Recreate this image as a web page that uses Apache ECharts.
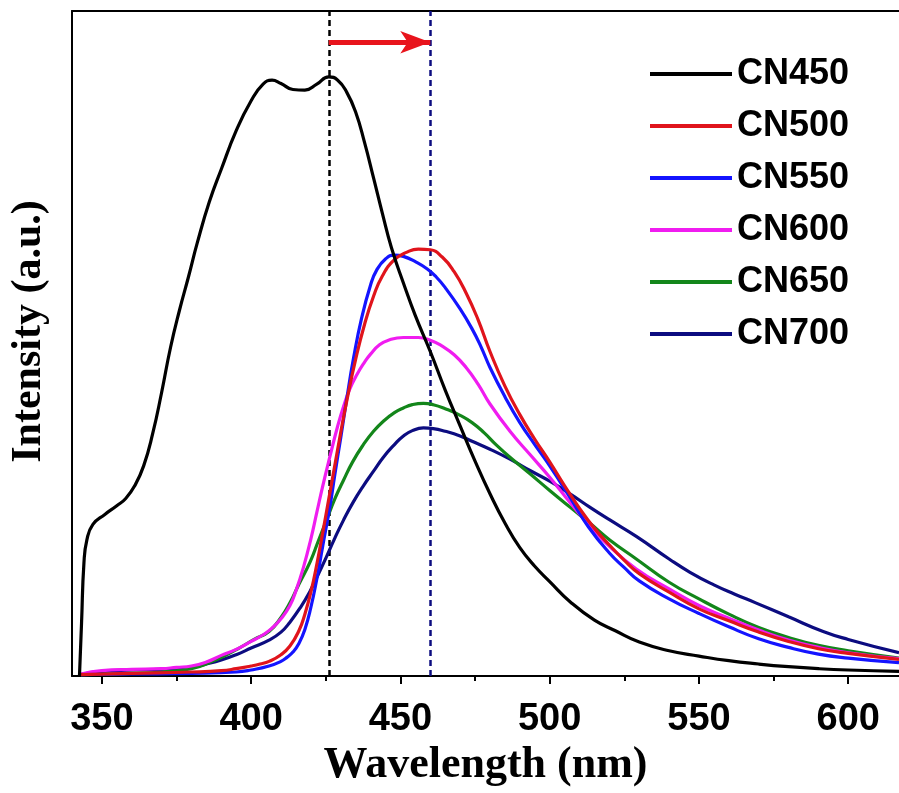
<!DOCTYPE html>
<html><head><meta charset="utf-8">
<script src="https://cdn.jsdelivr.net/npm/echarts@6/dist/echarts.min.js"></script>
<style>html,body{margin:0;padding:0;background:#fff}#c{width:899px;height:793px}</style>
</head><body><div id="c"></div>
<script>
// ---- data (wavelength nm, intensity a.u.) ----
const seriesNames = ['CN450', 'CN500', 'CN550', 'CN600', 'CN650', 'CN700'];
const seriesColors = ['#000000', '#e0141c', '#1414ff', '#f01cf0', '#13861a', '#0c0c80'];

const cn450 = [[342.5,0],[343.2,8],[344,17],[345,20.5],[347,22.8],[351,24.3],[355,25.6],[358,26.7],[361,28.6],[364,31.6],[367,36.4],[370,42.6],[373,49.4],[376,55],[379,60],[382,65.2],[386,71.3],[390,76.2],[395,82],[400,86.5],[404,89],[407,89.6],[410,89.1],[414,88.2],[418,88.1],[422,89],[426,90.1],[429,89.6],[432,87.8],[435,84.8],[438,80.2],[441,74.9],[444,69.5],[447,64.4],[451,59.1],[455,54.2],[460,48.8],[465,43],[470,37.6],[475,32.3],[480,27.4],[485,23],[490,19.3],[495,16.5],[500,14.2],[507,11.1],[515,8.4],[522,6.8],[530,5.1],[540,3.8],[550,3.0],[560,2.3],[570,1.8],[580,1.4],[590,1.1],[600,0.9],[617,0.7]];

const cn500 = [[343,0.2],[360,0.4],[380,0.6],[390,0.8],[395,1.1],[400,1.5],[403,1.8],[406,2.2],[410,3.2],[413,4.5],[416,6.8],[418,9.3],[420,12.6],[422,16.8],[424,21.6],[426,26.6],[428,31.6],[430,36.6],[432,41.3],[435,47.6],[438,52.9],[441,57.1],[444,60.2],[448,62.6],[452,63.7],[456,64.2],[460,64.1],[464,63.0],[468,60.8],[472,57.6],[476,53.6],[480,48.8],[485,43.6],[490,39.3],[495,35.6],[500,32.2],[505,28.6],[510,25.2],[515,22.2],[520,19.7],[525,17.4],[530,15.4],[540,12.6],[550,10.1],[560,8.3],[570,6.6],[580,5.2],[590,4.1],[600,3.4],[617,2.5]];

const cn550 = [[343,0.2],[360,0.3],[380,0.4],[395,0.6],[400,0.9],[406,1.5],[410,2.2],[412,2.8],[414,3.6],[416,4.9],[418,7.0],[420,10.3],[422,14.6],[424,19.6],[426.5,25.8],[428,30.2],[430,35.8],[432,41.6],[434.3,47.8],[437,53.8],[440,58.8],[442,61.0],[445,62.7],[448,63.3],[451,63.1],[455,62.3],[459,61.2],[462,60.0],[465,58.4],[470,55.2],[474,52.2],[477,49.5],[480,46.4],[485,42],[490,38.1],[495,34.8],[500,31.6],[507,26.7],[513,22.4],[520,18.5],[525,16.3],[530,14.3],[540,11.6],[550,9.4],[560,7.4],[570,5.6],[580,4.3],[590,3.3],[600,2.7],[617,2.0]];

const cn600 = [[343,0.3],[350,0.8],[360,1.0],[370,1.1],[375,1.3],[380,1.5],[385,2.1],[390,3.1],[395,4.0],[400,5.2],[404,6.2],[407,7.2],[410,8.6],[413,10.6],[415,12.8],[417.5,16.3],[420,20.6],[422,24.6],[424,28.6],[426.5,33.2],[429,37.6],[431,40.6],[433,43.1],[435.4,45.3],[438,47.2],[440,48.4],[443,49.8],[446,50.5],[451,50.9],[456,50.9],[460,50.5],[464,49.6],[468,48.3],[472,46.4],[476,43.9],[480,40.9],[486.7,36.8],[493.4,33.3],[500,29.9],[506.8,26.1],[513.4,22.6],[520,19.5],[529,16.1],[540,13.1],[550,10.6],[560,8.7],[570,6.9],[580,5.4],[590,4.3],[600,3.5],[617,2.6]];

const cn650 = [[343,0.2],[360,0.4],[370,0.6],[380,1.1],[387,2.2],[391,3.0],[396,4.2],[401,5.5],[406,6.7],[410,8.8],[413,11.0],[416,13.8],[419.8,17.2],[422.5,20.3],[425.3,23.5],[428,26.6],[430.9,29.4],[434,32.2],[437.6,34.8],[441,36.8],[444.3,38.3],[448,39.6],[451,40.3],[454,40.8],[457.7,41.0],[461,40.8],[465,40.2],[470,39.2],[474,38.1],[478,36.6],[482,34.8],[486.7,32.9],[493.4,30.4],[500,27.9],[506.8,25.4],[513.4,23.0],[520,20.5],[529,17.6],[540,14.1],[550,11.6],[560,9.3],[570,7.3],[580,5.8],[590,4.6],[600,3.8],[617,2.7]];

const cn700 = [[343,0.2],[350,0.7],[360,0.9],[370,1.0],[380,1.3],[385,1.8],[390,2.4],[395,3.2],[400,4.2],[406,5.4],[410,6.6],[413,8.1],[416.5,10.3],[419.8,12.8],[422.5,15.3],[425.3,18.0],[428,20.7],[430.9,23.4],[434,26.0],[437.6,28.6],[441,30.8],[444.3,32.9],[448,34.8],[451,36.1],[454,36.9],[457.7,37.3],[461,37.2],[465,36.8],[470,36.1],[474,35.3],[480,34.1],[486.7,32.6],[493.4,30.9],[500,29.3],[506.8,27.4],[513.4,25.4],[520,23.5],[529,21.0],[540,17.6],[547,15.6],[555,13.7],[562,12.3],[569,11.0],[580,8.9],[591.6,6.7],[600,5.5],[617,3.5]];

const allSeries = [cn450, cn500, cn550, cn600, cn650, cn700];

// ---- axes / annotations ----
const xRange = [340, 617];
const yRange = [0, 100];
const majorTicks = [350, 400, 450, 500, 550, 600];
const minorTicks = [375, 425, 475, 525, 575];
const peakLines = [426, 460];           // dashed vertical markers (nm)
const peakLineColors = ['#000000', '#0c0c80'];
const arrowFrom = [426, 95.3];
const arrowTo = [460, 95.3];

const chart = echarts.init(document.getElementById('c'), null, {renderer: 'canvas'});

const sansBold = {fontFamily: 'Liberation Sans', fontWeight: 'bold', color: '#000'};
const serifBold = {fontFamily: 'Liberation Serif', fontWeight: 'bold', color: '#000'};

const series = allSeries.map((d, i) => ({
  name: seriesNames[i],
  type: 'line',
  data: d,
  showSymbol: false,
  smooth: 0.5,
  z: 10 - i,
  color: seriesColors[i],
  itemStyle: {color: seriesColors[i]},
  lineStyle: {color: seriesColors[i], width: 3.2}
}));

// dashed markers and arrow on an empty helper series
series.push({
  type: 'line',
  data: [],
  silent: true,
  markLine: {
    silent: true,
    symbol: ['none', 'none'],
    label: {show: false},
    animation: false,
    data: peakLines.map((v, i) => ({
      xAxis: v,
      lineStyle: {color: peakLineColors[i], type: [6, 4], width: 2.5}
    })).concat([[
      {coord: arrowFrom, symbol: 'none', lineStyle: {color: '#e8141c', width: 5, type: 'solid'}},
      {coord: arrowTo, symbol: 'arrow', symbolSize: [17, 30]}
    ]])
  }
});

chart.setOption({
  animation: false,
  backgroundColor: '#fff',
  grid: {left: 72, top: 11, right: 0, bottom: 108, containLabel: false},
  legend: {
    orient: 'vertical',
    left: 645,
    top: 51,
    itemWidth: 82,
    itemHeight: 4,
    itemGap: 16,
    icon: 'rect',
    data: seriesNames,
    textStyle: Object.assign({fontSize: 36, lineHeight: 36}, sansBold)
  },
  xAxis: [
    {
      type: 'value', min: xRange[0], max: xRange[1], position: 'bottom',
      name: 'Wavelength (nm)', nameLocation: 'middle', nameGap: 68,
      nameTextStyle: Object.assign({fontSize: 44}, serifBold),
      axisLine: {show: true, onZero: false, lineStyle: {color: '#000', width: 2}},
      axisTick: {show: true, inside: false, length: 8, customValues: majorTicks, lineStyle: {color: '#000', width: 2}},
      axisLabel: Object.assign({show: true, fontSize: 38, margin: 25, customValues: majorTicks}, sansBold),
      splitLine: {show: false}
    },
    {
      type: 'value', min: xRange[0], max: xRange[1], position: 'bottom', gridIndex: 0,
      axisLine: {show: false},
      axisTick: {show: true, length: 5, customValues: minorTicks, lineStyle: {color: '#000', width: 2}},
      axisLabel: {show: false},
      splitLine: {show: false}
    },
    {
      type: 'value', min: xRange[0], max: xRange[1], position: 'top', gridIndex: 0,
      axisLine: {show: true, onZero: false, lineStyle: {color: '#000', width: 2}},
      axisTick: {show: false},
      axisLabel: {show: false},
      splitLine: {show: false}
    }
  ],
  yAxis: {
    type: 'value', min: yRange[0], max: yRange[1],
    name: 'Intensity (a.u.)', nameLocation: 'middle', nameGap: 22,
    nameTextStyle: Object.assign({fontSize: 42, padding: [0, 0, 0, 24]}, serifBold),
    axisLine: {show: true, lineStyle: {color: '#000', width: 2}},
    axisTick: {show: false},
    axisLabel: {show: false},
    splitLine: {show: false}
  },
  series: series
});
</script>
</body></html>
